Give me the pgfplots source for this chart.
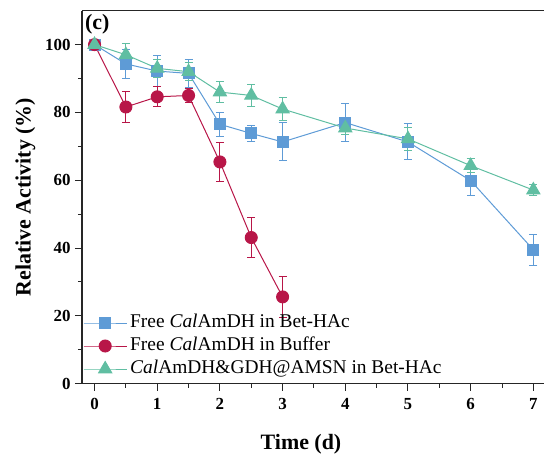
\documentclass[border=0pt]{standalone}
\usepackage{fontspec}
\setmainfont{Liberation Serif}
\usepackage{pgfplots}
\pgfplotsset{compat=1.18}

\definecolor{cblue}{RGB}{94,155,214}
\definecolor{cred}{RGB}{184,22,72}
\definecolor{cgreen}{RGB}{96,190,162}

\pgfplotsset{
  errstyle/.style={
    error bars/.cd, y dir=both, y explicit,
    error bar style={line width=1bp, solid},
    error mark options={rotate=90, mark size=4bp, line width=1bp},
  },
}

\begin{document}
\begin{tikzpicture}
\begin{axis}[
  scale only axis,
  width=462bp, height=373bp,
  xmin=-0.2, xmax=7.17,
  ymin=0, ymax=110,
  separate axis lines,
  axis x line*=box,
  axis y line*=left,
  axis line style={-, line width=1.2bp, black!85},
  xtick={0,1,...,7},
  ytick={0,20,...,100},
  minor x tick num=1,
  minor y tick num=1,
  xtick pos=left, ytick pos=left,
  tick align=outside,
  major tick length=7bp,
  minor tick length=4bp,
  every tick/.style={black!85, line width=1bp},
  /pgf/number format/assume math mode=true,
  ticklabel style={font=\fontsize{17}{17}\selectfont\bfseries},
  xticklabel style={yshift=-4bp},
  yticklabel style={xshift=-1bp},
  xlabel={Time (d)},
  ylabel={Relative Activity (\%)},
  label style={font=\fontsize{22}{22}\selectfont\bfseries},
  xlabel style={at={(rel axis cs:0.474,0)}, anchor=north, yshift=-47bp},
  ylabel style={at={(rel axis cs:0,0.5)}, anchor=south, yshift=43bp},
  legend cell align=left,
  legend style={
    draw=none, fill=none,
    at={(rel axis cs:0,0)}, anchor=south west,
    xshift=1bp, yshift=3bp,
    inner sep=0pt,
    font=\fontsize{19.5}{19.5}\selectfont,
    nodes={text height=13bp, text depth=4bp, inner sep=3bp},
  },
  legend image code/.code={
    \draw[mark repeat=2, mark phase=2, #1]
      plot coordinates {(0bp,0bp) (21.5bp,0bp) (43bp,0bp)};
  },
]

% Free CalAmDH in Bet-HAc
\addplot[color=cblue, line width=1bp, mark=square*, mark size=5.5bp,
  mark options={solid, fill=cblue}, errstyle] coordinates {
  (0,100) +- (0,1.5)
  (0.5,94.3) +- (0,4.2)
  (1,92.2) +- (0,4.5)
  (1.5,91.5) +- (0,4.2)
  (2,76.5) +- (0,3.5)
  (2.5,73.8) +- (0,2.3)
  (3,71.3) +- (0,5.6)
  (4,77.0) +- (0,5.5)
  (5,71.3) +- (0,5.3)
  (6,59.9) +- (0,4.3)
  (7,39.5) +- (0,4.5)
};
\addlegendentry{Free \textit{Cal}AmDH in Bet-HAc}

% Free CalAmDH in Buffer
\addplot[color=cred, line width=1bp, mark=*, mark size=6bp,
  mark options={solid, fill=cred}, errstyle] coordinates {
  (0,100) +- (0,1.2)
  (0.5,81.6) +- (0,4.5)
  (1,84.6) +- (0,3.0)
  (1.5,85.0) +- (0,2.0)
  (2,65.4) +- (0,5.7)
  (2.5,43.1) +- (0,5.9)
  (3,25.6) +- (0,6.0)
};
\addlegendentry{Free \textit{Cal}AmDH in Buffer}

% CalAmDH&GDH@AMSN in Bet-HAc
\addplot[color=cgreen, line width=1bp, mark=triangle*, mark size=7.5bp,
  mark options={solid, fill=cgreen}, errstyle] coordinates {
  (0,100) +- (0,1.2)
  (0.5,97.0) +- (0,3.2)
  (1,93.0) +- (0,2.6)
  (1.5,92.0) +- (0,2.6)
  (2,86.0) +- (0,3.0)
  (2.5,85.0) +- (0,3.3)
  (3,81.0) +- (0,3.3)
  (4,75.4) +- (0,2.0)
  (5,72.2) +- (0,3.5)
  (6,64.3) +- (0,2.0)
  (7,57.1) +- (0,1.5)
};
\addlegendentry{\textit{Cal}AmDH\&GDH@AMSN in Bet-HAc}

\node[anchor=north west, font=\fontsize{22}{22}\selectfont\bfseries,
  inner sep=0pt] at (rel axis cs:0,1) [xshift=3bp, yshift=-3bp] {(c)};
\end{axis}
\pgfresetboundingbox
\path[use as bounding box] (-82bp,-74.3bp) rectangle (462bp,383.7bp);
\end{tikzpicture}
\end{document}
